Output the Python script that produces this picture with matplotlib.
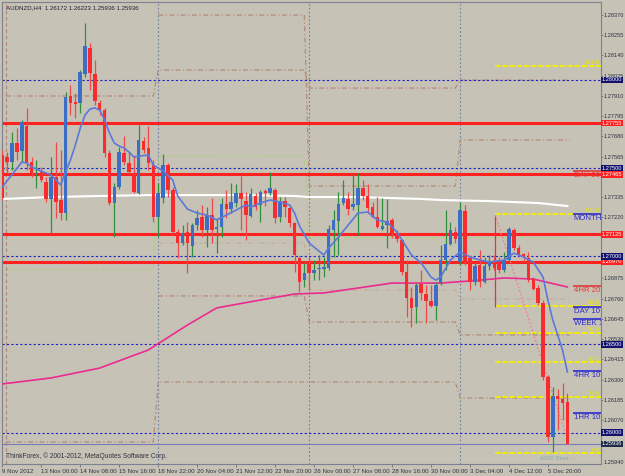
import numpy as np
import matplotlib.pyplot as plt
from matplotlib import font_manager

# AUDNZD H4 candles, 9 Nov 20:00 .. 6 Dec 12:00 2012
opens = [1.27574, 1.27563, 1.27535, 1.27642, 1.27597, 1.27739, 1.27535, 1.27466, 1.27478, 1.27421,
         1.27325, 1.27449, 1.27319, 1.27245, 1.27909, 1.27875, 1.27869, 1.28033, 1.28181, 1.28033,
         1.27869, 1.27829, 1.27585, 1.27302, 1.27393, 1.27585, 1.27529, 1.27472, 1.27359, 1.27654,
         1.27614, 1.27517, 1.27223, 1.27330, 1.27517, 1.27376, 1.27138, 1.27075, 1.27138, 1.27058,
         1.27177, 1.27223, 1.27149, 1.27234, 1.27155, 1.27166, 1.27296, 1.27268, 1.27302, 1.27359,
         1.27313, 1.27228, 1.27342, 1.27291, 1.27370, 1.27359, 1.27376, 1.27223, 1.27313, 1.27274,
         1.27189, 1.26990, 1.26865, 1.26956, 1.26905, 1.26928, 1.26928, 1.26933, 1.27149, 1.27200,
         1.27302, 1.27325, 1.27279, 1.27291, 1.27387, 1.27342, 1.27279, 1.27223, 1.27155, 1.27177,
         1.27206, 1.27132, 1.27092, 1.26911, 1.26763, 1.26712, 1.26843, 1.26786, 1.26746, 1.26718,
         1.26848, 1.26979, 1.27070, 1.27138, 1.26967, 1.27257, 1.26990, 1.26854, 1.26950, 1.26854,
         1.26945, 1.26967, 1.26967, 1.26922, 1.26979, 1.27149, 1.27047, 1.27013, 1.26990, 1.26871,
         1.26820, 1.26735, 1.26316, 1.25975, 1.26208, 1.26191, 1.26172]
highs = [1.27603, 1.27591, 1.27705, 1.27727, 1.27773, 1.27841, 1.27563, 1.27546, 1.27506, 1.27449,
         1.27563, 1.27648, 1.27603, 1.27931, 1.27971, 1.27926, 1.28056, 1.28323, 1.28209, 1.28113,
         1.27886, 1.27841, 1.27603, 1.27415, 1.27619, 1.27682, 1.27591, 1.27574, 1.27744, 1.27676,
         1.27739, 1.27546, 1.27415, 1.27580, 1.27529, 1.27393, 1.27155, 1.27177, 1.27194, 1.27189,
         1.27262, 1.27291, 1.27279, 1.27330, 1.27217, 1.27330, 1.27376, 1.27415, 1.27410, 1.27455,
         1.27364, 1.27387, 1.27359, 1.27376, 1.27381, 1.27478, 1.27387, 1.27336, 1.27336, 1.27291,
         1.27194, 1.27001, 1.26962, 1.26996, 1.26979, 1.27007, 1.26996, 1.27177, 1.27262, 1.27364,
         1.27432, 1.27364, 1.27472, 1.27472, 1.27432, 1.27410, 1.27308, 1.27336, 1.27330, 1.27325,
         1.27217, 1.27149, 1.27098, 1.26979, 1.26826, 1.26848, 1.26922, 1.26837, 1.26837, 1.26854,
         1.27064, 1.27262, 1.27194, 1.27166, 1.27308, 1.27291, 1.27007, 1.26967, 1.27035, 1.26996,
         1.27007, 1.27007, 1.26996, 1.27024, 1.27166, 1.27160, 1.27064, 1.27018, 1.27024, 1.26882,
         1.26837, 1.26752, 1.26327, 1.26259, 1.26247, 1.26281, 1.26223]
lows = [1.27319, 1.27472, 1.27489, 1.27546, 1.27535, 1.27489, 1.27449, 1.27387, 1.27421, 1.27308,
        1.27132, 1.27217, 1.27206, 1.27206, 1.27801, 1.27784, 1.27812, 1.28016, 1.27943, 1.27858,
        1.27801, 1.27563, 1.27291, 1.27109, 1.27381, 1.27517, 1.27472, 1.27359, 1.27353, 1.27585,
        1.27489, 1.27194, 1.27109, 1.27302, 1.27336, 1.27126, 1.26990, 1.27064, 1.26905, 1.26996,
        1.27149, 1.27109, 1.27052, 1.27075, 1.27018, 1.27109, 1.27217, 1.27245, 1.27279, 1.27149,
        1.27092, 1.27223, 1.27262, 1.27194, 1.27285, 1.27347, 1.27189, 1.27194, 1.27223, 1.27166,
        1.26911, 1.26797, 1.26826, 1.26809, 1.26865, 1.26865, 1.26882, 1.26922, 1.26996, 1.27007,
        1.27291, 1.27234, 1.27262, 1.27120, 1.27319, 1.27245, 1.27217, 1.27160, 1.27149, 1.27047,
        1.27104, 1.27081, 1.26894, 1.26656, 1.26599, 1.26622, 1.26752, 1.26622, 1.26712, 1.26639,
        1.26837, 1.26922, 1.27064, 1.27075, 1.26950, 1.26950, 1.26809, 1.26837, 1.26826, 1.26848,
        1.26922, 1.26922, 1.26905, 1.26911, 1.26967, 1.27035, 1.26996, 1.26967, 1.26854, 1.26809,
        1.26724, 1.26298, 1.25947, 1.25890, 1.26015, 1.26072, 1.25936]
closes = [1.27330, 1.27534, 1.27642, 1.27591, 1.27761, 1.27529, 1.27472, 1.27472, 1.27432, 1.27325,
          1.27449, 1.27308, 1.27245, 1.27903, 1.27869, 1.27863, 1.28045, 1.28192, 1.28039, 1.27880,
          1.27829, 1.27585, 1.27302, 1.27393, 1.27591, 1.27534, 1.27478, 1.27364, 1.27659, 1.27603,
          1.27529, 1.27223, 1.27359, 1.27517, 1.27376, 1.27138, 1.27075, 1.27132, 1.27075, 1.27177,
          1.27217, 1.27149, 1.27234, 1.27149, 1.27166, 1.27296, 1.27268, 1.27308, 1.27359, 1.27325,
          1.27234, 1.27353, 1.27279, 1.27364, 1.27359, 1.27387, 1.27217, 1.27313, 1.27279, 1.27189,
          1.27007, 1.26854, 1.26905, 1.26905, 1.26922, 1.26933, 1.26939, 1.27155, 1.27206, 1.27296,
          1.27330, 1.27268, 1.27296, 1.27387, 1.27342, 1.27274, 1.27223, 1.27166, 1.27172, 1.27200,
          1.27132, 1.27098, 1.26911, 1.26763, 1.26707, 1.26837, 1.26792, 1.26746, 1.26718, 1.26837,
          1.26979, 1.27070, 1.27149, 1.27098, 1.27262, 1.26967, 1.26854, 1.26945, 1.26854, 1.26945,
          1.26973, 1.26933, 1.26922, 1.26979, 1.27155, 1.27047, 1.27007, 1.26996, 1.26865, 1.26814,
          1.26735, 1.26316, 1.25975, 1.26208, 1.26191, 1.26168, 1.25936]

# moving averages (bar index, price)
ma10_bars = [0, 4, 5, 6, 8, 10, 12, 13, 14, 15, 16, 17, 18, 19, 20, 21, 22, 23, 24, 25, 26, 27, 28,
             30, 31, 33, 35, 36, 38, 40, 42, 44, 46, 48, 50, 51, 53, 55, 57, 59, 60, 61, 63, 66, 67,
             69, 71, 73, 75, 77, 79, 81, 84, 86, 88, 89, 90, 92, 94, 96, 98, 100, 103, 105, 107, 109,
             111, 112, 113, 114, 115, 116]
ma10_vals = [1.27393, 1.27534, 1.27529, 1.27506, 1.27483, 1.27461, 1.27404, 1.27478, 1.27546, 1.27631,
             1.27727, 1.27801, 1.27835, 1.27841, 1.27829, 1.27773, 1.27699, 1.27642, 1.27625, 1.27614,
             1.27591, 1.27563, 1.27568, 1.27574, 1.27517, 1.27483, 1.27432, 1.27342, 1.27268, 1.27245,
             1.27234, 1.27206, 1.27234, 1.27262, 1.27291, 1.27279, 1.27302, 1.27319, 1.27308, 1.27291,
             1.27245, 1.27172, 1.27075, 1.27007, 1.27047, 1.27109, 1.27177, 1.27245, 1.27251, 1.27206,
             1.27194, 1.27138, 1.27007, 1.26962, 1.26882, 1.26865, 1.26882, 1.26979, 1.27024, 1.26996,
             1.26979, 1.26967, 1.26979, 1.27018, 1.26996, 1.26967, 1.26882, 1.26752, 1.26639, 1.26554,
             1.26469, 1.26344]
slow_bars = [0, 10, 20, 30, 40, 50, 60, 63, 73, 86, 90, 100, 110, 116]
slow_vals = [1.27325, 1.27336, 1.27342, 1.27347, 1.27347, 1.27347, 1.27342, 1.27336, 1.27336, 1.27325,
             1.27319, 1.27313, 1.27302, 1.27285]
pink_bars = [0, 10, 20, 30, 38, 44, 53, 60, 66, 73, 80, 90, 96, 103, 109, 116]
pink_vals = [1.26276, 1.26310, 1.26366, 1.26469, 1.26610, 1.26707, 1.26752, 1.26786, 1.26792, 1.26820,
             1.26848, 1.26848, 1.26860, 1.26877, 1.26871, 1.26826]

red_levels = [1.27755, 1.27465, 1.27125, 1.26970]
round_levels = [1.28000, 1.27500, 1.27000, 1.26500, 1.26000]
bid = 1.25936

fib_names = ['161.8', '100.0', '61.8', '50.0', '38.2', '23.6', '0.0']
fib_prices = [1.28079, 1.27240, 1.26718, 1.26565, 1.26400, 1.26202, 1.25884]

tag_names = ['DAY 20', 'MONTH', '4HR 20', 'DAY 10', 'WEEK 1', '4HR 10', '1HR 10']
tag_prices = [1.27483, 1.27240, 1.26831, 1.26712, 1.26644, 1.26349, 1.26111]
tag_colors = ['#e03a3a', '#2a2ad0', '#e03a3a', '#2a2ad0', '#2a2ad0', '#2a2ad0', '#2a2ad0']

# weekly level indicators, one value per week (None = not drawn)
week_first = [0.7, 32, 63, 94]
week_last = [31, 62, 93, 116.5]
wk_upper1 = [1.27909, 1.28056, 1.27954, 1.27999]
wk_upper2 = [None, 1.28368, 1.27398, 1.27659]
wk_tan = [None, 1.27075, 1.26809, 1.26758]
wk_mid = [None, 1.26775, 1.26627, 1.26554]
wk_low = [1.25947, 1.26287, 1.26287, 1.26196]
wk_green = [1.26922, 1.27568, 1.27104, 1.27104]
week_starts = [32, 63, 94]

date_bars = [0, 8, 16, 24, 32, 40, 48, 56, 64, 72, 80, 88, 96, 104, 112]
date_labels = ['9 Nov 2012', '13 Nov 00:00', '14 Nov 08:00', '15 Nov 16:00', '18 Nov 22:00',
               '20 Nov 04:00', '21 Nov 12:00', '22 Nov 20:00', '26 Nov 00:00', '27 Nov 08:00',
               '28 Nov 16:00', '30 Nov 00:00', '3 Dec 04:00', '4 Dec 12:00', '5 Dec 20:00']

price_ticks = [1.28370, 1.28255, 1.28140, 1.28025, 1.27910, 1.27795, 1.27680, 1.27565,
               1.27335, 1.27220, 1.26875, 1.26760, 1.26645, 1.26530, 1.26415,
               1.26300, 1.26185, 1.26070]

bg = '#c6c3b6'
have = {f.name for f in font_manager.fontManager.ttflist}
if 'Liberation Sans Narrow' in have:
    plt.rcParams['font.family'] = ['Liberation Sans Narrow', 'DejaVu Sans']
    k = 1.2
else:
    plt.rcParams['font.family'] = ['Liberation Sans', 'DejaVu Sans']
    k = 1.0


def week_line(ax, vals, color, ls):
    xs, ys = [], []
    for s, e, v in zip(week_first, week_last, vals):
        if v is None:
            if xs:
                ax.plot(xs, ys, color=color, lw=0.9, ls=ls, zorder=1)
            xs, ys = [], []
            continue
        xs += [s, e]
        ys += [v, v]
    if xs:
        ax.plot(xs, ys, color=color, lw=0.9, ls=ls, zorder=1)


fig = plt.figure(figsize=(6.25, 4.76), dpi=100, facecolor=bg)
ax = fig.add_axes([2 / 625, 12 / 476, 599 / 625, 462 / 476])
ax.set_facecolor(bg)
ax.set_xlim(-0.06, 122.9)
ax.set_ylim(1.25822, 1.28442)

# week separators
for b in week_starts:
    ax.axvline(b, color='#6f7fa8', lw=0.8, ls=(0, (1.5, 2)), zorder=1)

dashdot = (0, (4, 2, 1, 2))
week_line(ax, wk_upper1, '#b48a78', dashdot)
week_line(ax, wk_upper2, '#b48a78', dashdot)
week_line(ax, wk_mid, '#b48a78', dashdot)
week_line(ax, wk_low, '#b48a78', dashdot)
week_line(ax, wk_tan, '#c4ae98', dashdot)
week_line(ax, wk_green, '#b2cd84', (0, (4, 3)))
ax.axvline(0.7, color='#b48a78', lw=0.9, ls=(0, (3, 2)), zorder=1)

# horizontal levels
for p in round_levels:
    ax.axhline(p, color='#2020c8', lw=0.8, ls=(0, (2, 2)), zorder=2)
for p in red_levels:
    ax.axhline(p, color='#ff2020', lw=2.2, zorder=2)
ax.axhline(bid, color='#7a7ab8', lw=0.8, zorder=2)

# fibonacci block
for name, p in zip(fib_names, fib_prices):
    ax.hlines(p, 101.2, 122.9, color='#f4f000', lw=1.3, ls=(0, (3, 1)), zorder=3)
    ax.text(122.7, p + 0.00003, name, color='#e6e600', fontsize=4.4 * k, ha='right', va='bottom', zorder=6)
ax.vlines(101.2, 1.26712, 1.27234, color='#f03030', lw=0.9, zorder=3)
ax.plot([101.2, 116.5], [1.27234, 1.25919], color='#f08080', lw=0.9, ls=(0, (1.5, 1.5)), zorder=3)

# moving averages
ax.plot(slow_bars, slow_vals, color='white', lw=1.5, zorder=4)
ax.plot(pink_bars, pink_vals, color='#ec2a90', lw=1.2, zorder=4)

# candles
for i in range(len(opens)):
    o, h, l, c = opens[i], highs[i], lows[i], closes[i]
    up = c >= o
    ax.vlines(i, l, h, color='#2f8f3a' if up else '#f04848', lw=0.9, zorder=5)
    ax.bar(i, max(abs(c - o), 0.00003), bottom=min(o, c), width=0.72,
           color='#3c6ec6' if up else '#f82c2c', zorder=5)

ax.plot(ma10_bars, ma10_vals, color='#5c78d8', lw=1.2, zorder=6)

# marker tags on the right
for name, p, col in zip(tag_names, tag_prices, tag_colors):
    ax.hlines(p, 117.2, 122.9, color=col, lw=1.2, zorder=7)
    ax.text(117.3, p - 0.00004, name, color=col, fontsize=5.6 * k, ha='left', va='top',
            clip_on=True, zorder=7)

ax.text(110.4, 1.25851, 'ADR Start', color='#86aab4', fontsize=4.6 * k, ha='left', va='center', zorder=7)

# axis styling
for sp in ax.spines.values():
    sp.set_color('#7c8090')
    sp.set_linewidth(0.8)
ax.yaxis.tick_right()
ax.set_yticks(price_ticks)
ax.set_yticklabels(['%.5f' % p for p in price_ticks])
ax.tick_params(axis='y', length=1.5, width=0.6, colors='#6a6e80', labelcolor='#303040',
               labelsize=4.1 * k, pad=0.5)
ax.set_xticks(date_bars)
ax.set_xticklabels(date_labels)
ax.tick_params(axis='x', length=2, width=0.6, colors='#6a6e80', labelcolor='#303040',
               labelsize=4.4 * k, pad=1.5)
for lab in ax.get_xticklabels():
    lab.set_ha('left')

yt = ax.get_yaxis_transform()
box = dict(boxstyle='square,pad=0.15', ec='none')
for p in red_levels:
    ax.text(1.0012, p, '%.5f' % p, transform=yt, color='white', fontsize=4.1 * k, ha='left', va='center',
            bbox=dict(box, fc='#ff2020'), zorder=8, clip_on=False)
for p in round_levels:
    ax.text(1.0012, p, '%.5f' % p, transform=yt, color='white', fontsize=4.1 * k, ha='left', va='center',
            bbox=dict(box, fc='#12126e'), zorder=8, clip_on=False)
ax.text(1.0012, bid, '%.5f' % bid, transform=yt, color='white', fontsize=4.1 * k, ha='left', va='center',
        bbox=dict(box, fc='#1e2c48'), zorder=9, clip_on=False)
ax.text(1.004, 0.004, '1.25940', transform=ax.transAxes, color='#303040', fontsize=4.1 * k,
        ha='left', va='center', clip_on=False)

ax.text(0.006, 0.993, 'AUDNZD,H4  1.26172 1.26223 1.25936 1.25936', transform=ax.transAxes,
        color='#202030', fontsize=4.4 * k, ha='left', va='top', zorder=9)
ax.text(0.006, 0.008, 'ThinkForex, \u00a9 2001-2012, MetaQuotes Software Corp.', transform=ax.transAxes,
        color='#303040', fontsize=4.8 * k, ha='left', va='bottom', zorder=9)

fig.savefig('out.png', dpi=100, facecolor=bg)
